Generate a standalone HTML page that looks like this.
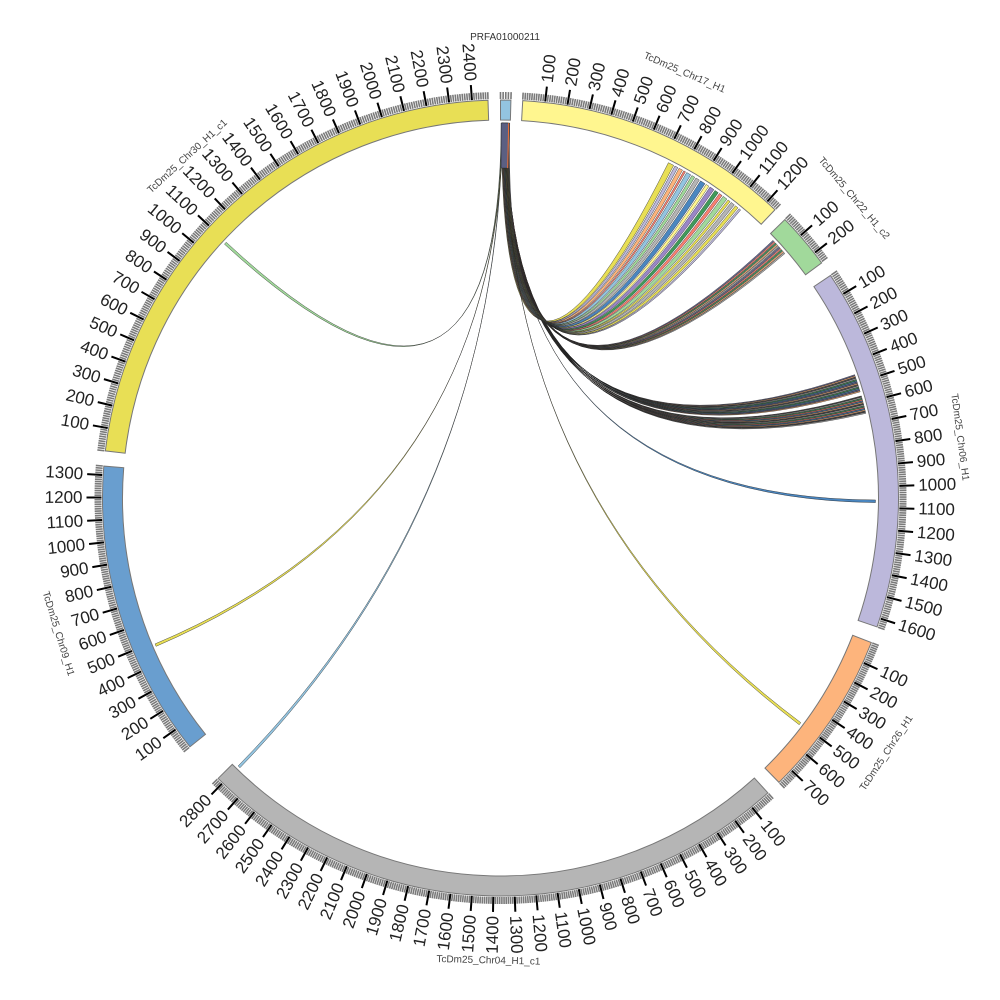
<!DOCTYPE html>
<html><head><meta charset="utf-8"><style>html,body{margin:0;padding:0;background:#fff}svg{display:block}</style></head>
<body><svg id="s" width="1000" height="1000" xmlns="http://www.w3.org/2000/svg"></svg>
<script>
const cx=500.5,cy=498,R0=378,R1=398;
const segs=[
 {n:"PRFA01000211",a:0.0,b:1.5,len:40,c:"#93c4e0",lab:false},
 {n:"TcDm25_Chr17_H1",a:3.2,b:43.6,len:1250,c:"#fff68f",lab:true},
 {n:"TcDm25_Chr22_H1_c2",a:45.6,b:53.8,len:255,c:"#a1d99b",lab:true},
 {n:"TcDm25_Chr06_H1",a:56.0,b:108.9,len:1640,c:"#bcb8db",lab:true},
 {n:"TcDm25_Chr26_H1",a:111.3,b:135.6,len:780,c:"#fdb47c",lab:true},
 {n:"TcDm25_Chr04_H1_c1",a:137.8,b:225.2,len:2830,c:"#b5b5b5",lab:true},
 {n:"TcDm25_Chr09_H1",a:231.3,b:274.6,len:1340,c:"#699ecf",lab:true},
 {n:"TcDm25_Chr30_H1_c1",a:276.8,b:358.2,len:2470,c:"#e8df55",lab:true}
];
function P(r,d){const t=d*Math.PI/180;return [cx+r*Math.sin(t),cy-r*Math.cos(t)];}
function f(p){return p[0].toFixed(2)+","+p[1].toFixed(2);}
let o="";
function ribbon(a1,a2,b1,b2,col){const r=375;
 const A1=P(r,a1),A2=P(r,a2),B1=P(r,b1),B2=P(r,b2);
 return `<path d="M${f(A1)} A${r},${r} 0 0 1 ${f(A2)} Q${cx},${cy} ${f(B2)} A${r},${r} 0 0 0 ${f(B1)} Q${cx},${cy} ${f(A1)} Z" fill="${col}" stroke="#222" stroke-width="0.4"/>`;}
const cols=["#e8df55","#bcb8db","#fdb47c","#fb8072","#93c4e0","#a1d99b","#b5b5b5","#4a86c0","#fff68f","#9a86c8","#3f9b5a","#fb8072","#a1d99b","#e8df55","#b5b5b5"];
let L="";
let k=0;
// Chr06 bundles
for(let t=70.8;t<73.5;t+=0.2){L+=ribbon(0.25+(k%6)*0.15,0.32+(k%6)*0.15,t,t+0.16,["#6c6c9a","#fdb47c","#555","#b5b5b5","#3f9b5a","#4a86c0"][(k++)%6]);}
for(let t=74.2;t<77.0;t+=0.2){L+=ribbon(0.25+(k%6)*0.15,0.32+(k%6)*0.15,t,t+0.16,["#4a86c0","#fdb47c","#444","#b5b5b5","#3f9b5a","#fb8072"][(k++)%6]);}
L+=ribbon(0.5,0.56,90.3,90.7,"#4a86c0");
// Chr22
for(let t=46.6;t<49.4;t+=0.28){L+=ribbon(0.3+(k%5)*0.2,0.37+(k%5)*0.2,t,t+0.2,["#3f9b5a","#fdb47c","#b5b5b5","#6c6c9a","#fb8072"][(k++)%5]);}
// Chr17 bundle
const w17=[0.9,0.5,0.6,0.3,0.7,0.5,0.6,0.8,0.5,0.7,0.6,0.5,0.7,0.4,0.6,0.5,0.3];
let t=26.6;
for(let i=0;i<w17.length;i++){L+=ribbon(0.15+i*0.075,0.22+i*0.075,t,t+w17[i],cols[i%cols.length]);t+=w17[i]+0.22;}
L+=ribbon(0.7,0.78,126.8,127.2,"#e8df55");
L+=ribbon(0.2,0.28,224.0,224.4,"#93c4e0");
L+=ribbon(0.3,0.38,246.7,247.1,"#e8df55");
L+=ribbon(0.1,0.18,312.6,313.0,"#a1d99b");
// dark source overlay
L+=`<path d="M${f(P(375,0.1))} A375,375 0 0 1 ${f(P(375,1.4))} L${f(P(330,1.4))} L${f(P(330,0.1))} Z" fill="#5b5f82" stroke="#222" stroke-width="0.4"/>`;
L+=`<line x1="${P(375,1.25)[0]}" y1="${P(375,1.25)[1]}" x2="${P(330,1.25)[0]}" y2="${P(330,1.25)[1]}" stroke="#f07030" stroke-width="1"/>`;
o+=L;
for(const s of segs){
 const a=P(R1,s.a),b=P(R1,s.b),c=P(R0,s.b),d=P(R0,s.a);
 const lg=(s.b-s.a)>180?1:0;
 const sc=(s.b-s.a)/s.len;
 for(let u=0;u<=s.len;u+=10){const an=s.a+u*sc;const p1=P(R1+1,an),p2=P(R1+8,an);
  o+=`<line x1="${p1[0].toFixed(2)}" y1="${p1[1].toFixed(2)}" x2="${p2[0].toFixed(2)}" y2="${p2[1].toFixed(2)}" stroke="#7a7a7a" stroke-width="1.6"/>`;}
 if(s.lab){for(let u=100;u<=s.len;u+=100){const an=s.a+u*sc;const p1=P(R1+1,an),p2=P(R1+16,an);
  o+=`<line x1="${p1[0].toFixed(2)}" y1="${p1[1].toFixed(2)}" x2="${p2[0].toFixed(2)}" y2="${p2[1].toFixed(2)}" stroke="#000" stroke-width="2"/>`;
  const p=P(R1+20,an);let rot,anc;
  if(an<180){rot=an-90;anc="start";}else{rot=an+90;anc="end";}
  o+=`<text x="${p[0].toFixed(2)}" y="${p[1].toFixed(2)}" transform="rotate(${rot.toFixed(2)} ${p[0].toFixed(2)} ${p[1].toFixed(2)})" text-anchor="${anc}" dominant-baseline="central" font-size="17" fill="#222">${u}</text>`;}}
 o+=`<path d="M${f(a)} A${R1},${R1} 0 ${lg} 1 ${f(b)} L${f(c)} A${R0},${R0} 0 ${lg} 0 ${f(d)} Z" fill="${s.c}" stroke="#777" stroke-width="1"/>`;
 const m=(s.a+s.b)/2;
 if(!s.lab){o+=`<text x="505" y="40" text-anchor="middle" font-size="10" fill="#333">${s.n}</text>`;}
 else{const p=P(463,m);let rot=(m>90&&m<270)?m-180:m;
  o+=`<text x="${p[0].toFixed(2)}" y="${p[1].toFixed(2)}" transform="rotate(${rot.toFixed(2)} ${p[0].toFixed(2)} ${p[1].toFixed(2)})" text-anchor="middle" dominant-baseline="central" font-size="10" fill="#444">${s.n}</text>`;}
}
document.getElementById("s").innerHTML=`<g font-family="Liberation Sans, sans-serif">${o}</g>`;
</script></body></html>
